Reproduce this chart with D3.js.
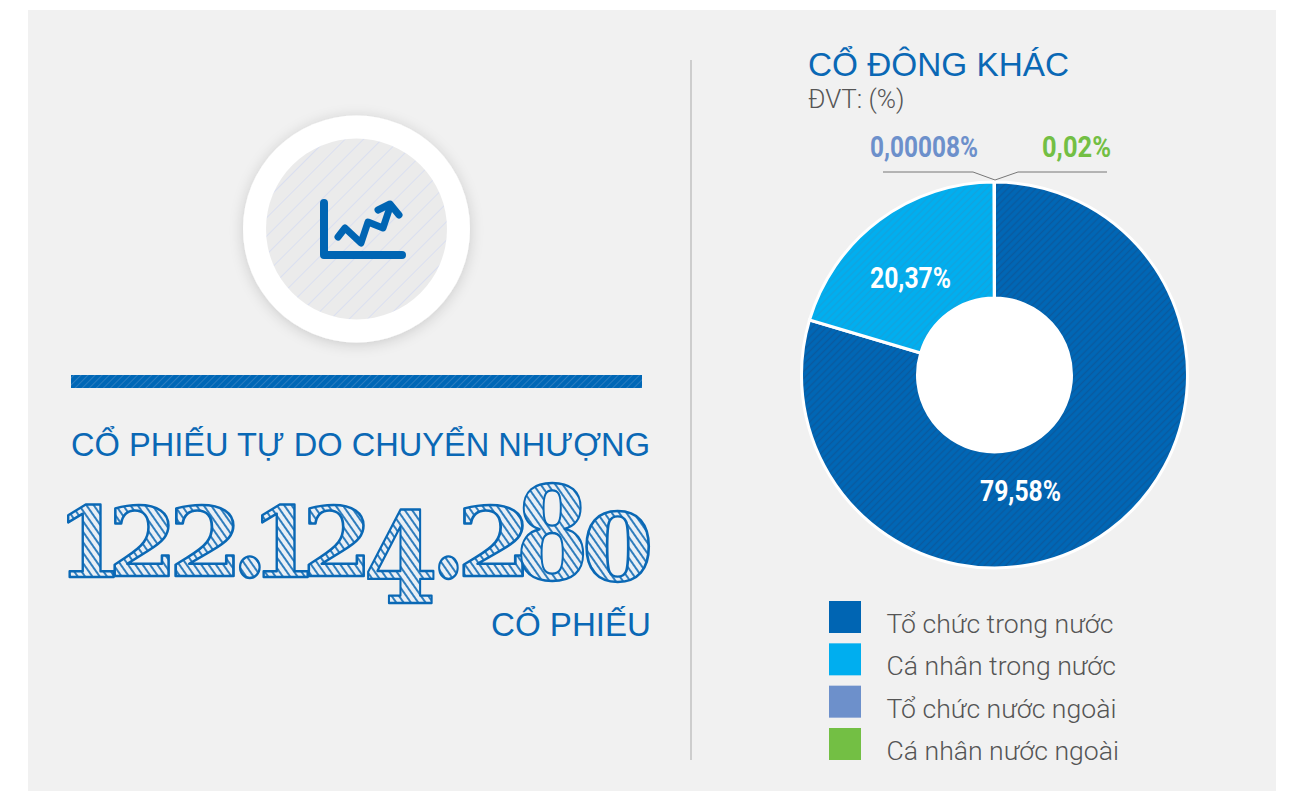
<!DOCTYPE html>
<html>
<head>
<meta charset="utf-8">
<script src="https://cdn.jsdelivr.net/npm/d3@7"></script>
<style>
html, body { margin: 0; padding: 0; background: #fff; }
svg { display: block; }
text { font-family: Roboto, sans-serif; }
</style>
</head>
<body>
<svg id="chart" width="1290" height="791"></svg>
<script>
// values
const categories = ["Tổ chức trong nước", "Cá nhân trong nước", "Tổ chức nước ngoài", "Cá nhân nước ngoài"];
const shares = [79.58, 20.37, 0.00008, 0.02];
const shareLabels = ["79,58%", "20,37%", "0,00008%", "0,02%"];
const colors = ["#0065b3", "#00aeef", "#6d90cb", "#73bf44"];
const bigNumber = "122.124.280";

const blue = "#0a68b5";
const headFont = "'Liberation Sans'";
const svg = d3.select("#chart");
const defs = svg.append("defs");

function hatch(id, bg, line, size, width, angle) {
    const p = defs.append("pattern")
        .attr("id", id)
        .attr("patternUnits", "userSpaceOnUse")
        .attr("width", size)
        .attr("height", size)
        .attr("patternTransform", `rotate(${angle})`);
    p.append("rect").attr("width", size).attr("height", size).attr("fill", bg);
    p.append("line")
        .attr("x1", 0).attr("y1", size / 2)
        .attr("x2", size).attr("y2", size / 2)
        .attr("stroke", line)
        .attr("stroke-width", width);
}
hatch("hatchIcon", "#ebebeb", "#dadff0", 13, 1, -45);
hatch("hatchBar", "#0067b6", "#2a7cc0", 5, 1, -45);
hatch("hatchDark", "#0067b6", "#0a5a9f", 5, 1.5, -45);
hatch("hatchLight", "#00aff0", "#12a3de", 5, 1.5, -45);
hatch("hatchDigit", "#e9eff5", "#2f7dbd", 6, 2, 55);

const sliceFills = ["url(#hatchDark)", "url(#hatchLight)", colors[2], colors[3]];

const shadow = defs.append("filter").attr("id", "soft")
    .attr("x", "-20%").attr("y", "-20%").attr("width", "140%").attr("height", "140%");
shadow.append("feDropShadow")
    .attr("dx", 0).attr("dy", 2)
    .attr("stdDeviation", 7)
    .attr("flood-color", "#000")
    .attr("flood-opacity", 0.16);

// panel
svg.append("rect")
    .attr("x", 28).attr("y", 10)
    .attr("width", 1248).attr("height", 781)
    .attr("fill", "#f1f1f1");

// divider
svg.append("line")
    .attr("x1", 691).attr("y1", 60)
    .attr("x2", 691).attr("y2", 760)
    .attr("stroke", "#a9a9a9")
    .attr("stroke-width", 1);

// icon badge
const badge = svg.append("g").attr("transform", "translate(356.5,229)");
badge.append("circle").attr("r", 113.5).attr("fill", "#fff").attr("filter", "url(#soft)");
badge.append("circle").attr("r", 90.5).attr("fill", "url(#hatchIcon)");

const iconLine = d3.line();
const icon = svg.append("g")
    .attr("fill", "none")
    .attr("stroke", "#0065b3")
    .attr("stroke-linecap", "round")
    .attr("stroke-linejoin", "round");
icon.append("path")
    .attr("d", iconLine([[324, 203], [324, 255], [402, 255]]))
    .attr("stroke-width", 8);
icon.append("path")
    .attr("d", iconLine([[338, 237], [345, 228], [361, 243], [368, 222], [383, 228], [390, 207]]))
    .attr("stroke-width", 7);
icon.append("path")
    .attr("d", iconLine([[378, 210], [390, 204], [399, 215]]))
    .attr("stroke-width", 7);

// blue bar
svg.append("rect")
    .attr("x", 71).attr("y", 375)
    .attr("width", 571).attr("height", 13)
    .attr("fill", "url(#hatchBar)");

svg.append("text")
    .attr("x", 71).attr("y", 456)
    .style("font-family", headFont)
    .attr("font-size", 33)
    .attr("textLength", 579)
    .attr("lengthAdjust", "spacingAndGlyphs")
    .attr("fill", blue)
    .text("CỔ PHIẾU TỰ DO CHUYỂN NHƯỢNG");

// big number: one text, every glyph fitted to its own box like the hand drawn lettering
const glyphBoxes = [
    [68, 114, 505, 577], [114, 169, 506, 576], [175, 234, 506, 576], [240, 260, 555, 577],
    [262, 308, 505, 577], [308, 364, 506, 576], [368, 434, 510, 603], [439, 458, 555, 578],
    [463, 523, 506, 576], [521, 584, 483, 580], [586, 649, 512, 582]
];
const measure = document.createElement("canvas").getContext("2d");
measure.font = "bold 100px 'DejaVu Serif'";

const digits = svg.append("text")
    .style("font-family", "'DejaVu Serif'")
    .attr("font-weight", "bold")
    .attr("fill", "url(#hatchDigit)")
    .attr("stroke", blue)
    .attr("stroke-width", 2.4)
    .attr("stroke-linejoin", "round");

bigNumber.split("").forEach((ch, i) => {
    const b = glyphBoxes[i];
    const m = measure.measureText(ch);
    const sx = (b[1] - b[0]) / (m.actualBoundingBoxLeft + m.actualBoundingBoxRight);
    const sy = (b[3] - b[2]) / (m.actualBoundingBoxAscent + m.actualBoundingBoxDescent);
    digits.append("tspan")
        .attr("x", b[0] + m.actualBoundingBoxLeft * sx)
        .attr("y", b[2] + m.actualBoundingBoxAscent * sy)
        .attr("font-size", 100 * sy)
        .attr("textLength", m.width * sx)
        .attr("lengthAdjust", "spacingAndGlyphs")
        .text(ch);
});

svg.append("text")
    .attr("x", 491).attr("y", 636)
    .style("font-family", headFont)
    .attr("font-size", 33)
    .attr("textLength", 160)
    .attr("lengthAdjust", "spacingAndGlyphs")
    .attr("fill", blue)
    .text("CỔ PHIẾU");

// title
svg.append("text")
    .attr("x", 808).attr("y", 76)
    .style("font-family", headFont)
    .attr("font-size", 33)
    .attr("textLength", 261)
    .attr("lengthAdjust", "spacingAndGlyphs")
    .attr("fill", blue)
    .text("CỔ ĐÔNG KHÁC");
svg.append("text")
    .attr("x", 808).attr("y", 108)
    .attr("font-size", 26)
    .attr("font-weight", 300)
    .attr("fill", "#555")
    .text("ĐVT: (%)");

// donut
const pie = d3.pie().sort(null).value(d => d);
const arc = d3.arc().innerRadius(77).outerRadius(193);
const donut = svg.append("g").attr("transform", "translate(994.5,375)");
donut.append("circle").attr("r", 78).attr("fill", "#fff");
donut.selectAll("path")
    .data(pie(shares))
    .join("path")
    .attr("d", arc)
    .attr("fill", (d, i) => sliceFills[i])
    .attr("stroke", "#fff")
    .attr("stroke-width", 3)
    .attr("stroke-linejoin", "miter");

// leader lines
const leaders = [
    [[883, 172], [973, 172], [995, 180]],
    [[1107, 172], [1018, 172], [995, 180]]
];
svg.selectAll(".leader")
    .data(leaders)
    .join("path")
    .attr("class", "leader")
    .attr("d", d3.line())
    .attr("fill", "none")
    .attr("stroke", "#777")
    .attr("stroke-width", 1);

// share labels: x, baseline, width
const labelSpots = [[980, 501, 81], [870, 288, 81], [870, 157, 108], [1042, 157, 69]];
const labelFills = ["#fff", "#fff", colors[2], colors[3]];
svg.selectAll(".share")
    .data(shareLabels)
    .join("text")
    .attr("class", "share")
    .attr("x", (d, i) => labelSpots[i][0])
    .attr("y", (d, i) => labelSpots[i][1])
    .attr("textLength", (d, i) => labelSpots[i][2])
    .attr("lengthAdjust", "spacingAndGlyphs")
    .attr("font-weight", "bold")
    .attr("font-size", 29)
    .attr("fill", (d, i) => labelFills[i])
    .text(d => d);

// legend
const legendY = d3.scalePoint().domain(categories).range([601, 728]);
const legend = svg.selectAll(".legend")
    .data(categories)
    .join("g")
    .attr("class", "legend")
    .attr("transform", d => `translate(829,${legendY(d)})`);
legend.append("rect")
    .attr("width", 32).attr("height", 32)
    .attr("fill", (d, i) => colors[i]);
legend.append("text")
    .attr("x", 57.5).attr("y", 32)
    .attr("font-size", 26.6)
    .attr("font-weight", 300)
    .attr("fill", "#555")
    .text(d => d);
</script>
</body>
</html>
